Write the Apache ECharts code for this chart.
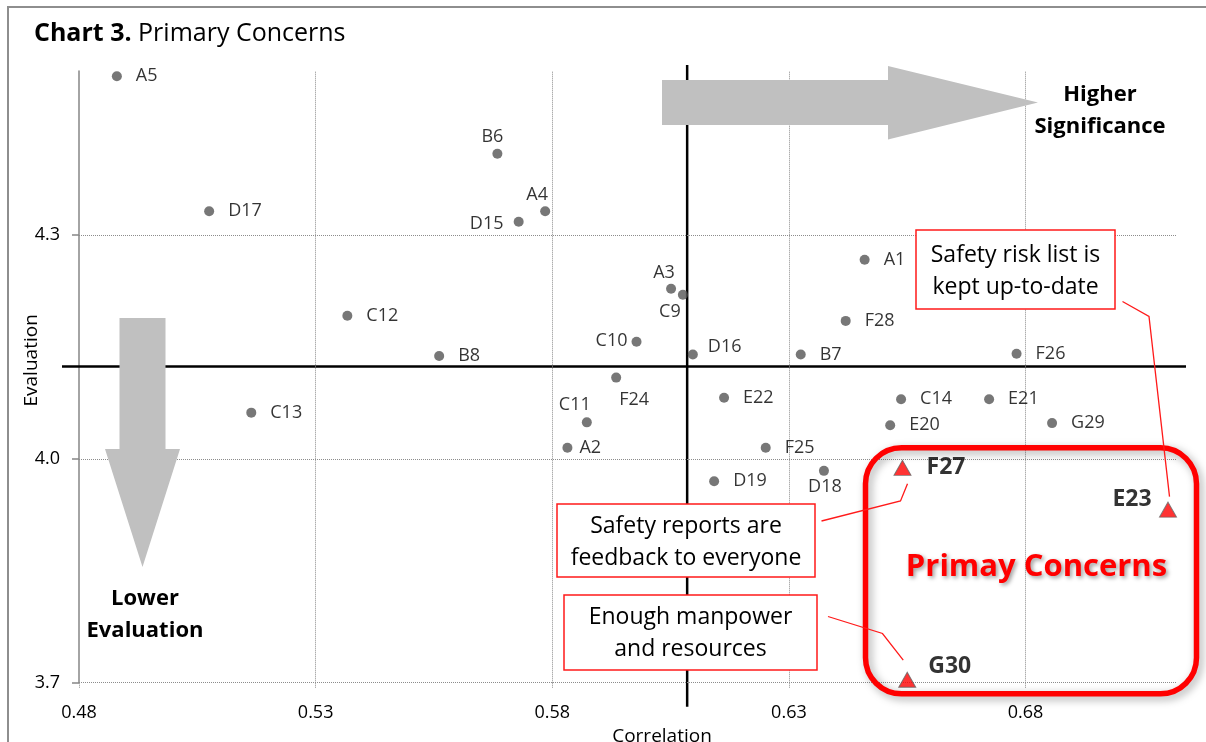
<!DOCTYPE html>
<html><head><meta charset="utf-8">
<script src="https://cdn.jsdelivr.net/npm/echarts@6/dist/echarts.min.js"></script>
<style>html,body{margin:0;padding:0;background:#fff}#c{width:1206px;height:742px}</style>
</head><body><div id="c"></div>
<script>
// ---------- data ----------
const pointNames  = ['A1','A2','A3','A4','A5','B6','B7','B8','C9','C10','C11','C12','C13','C14','D15','D16','D17','D18','D19','E20','E21','E22','F24','F25','F26','F28','G29'];
const correlation = [0.646,0.5832,0.6051,0.5785,0.4880,0.5684,0.6325,0.5561,0.6076,0.5978,0.5873,0.5367,0.5164,0.6537,0.5729,0.6097,0.5075,0.6374,0.6142,0.6514,0.6723,0.6163,0.5935,0.6251,0.6781,0.6420,0.6856];
const evaluation  = [4.267,4.015,4.228,4.332,4.513,4.409,4.140,4.138,4.220,4.157,4.049,4.192,4.062,4.080,4.318,4.140,4.332,3.984,3.970,4.045,4.080,4.082,4.109,4.015,4.141,4.185,4.048];
const primaryNames = ['F27','E23','G30'];
const primaryCorrelation = [0.654,0.7101,0.655];
const primaryEvaluation  = [3.988,3.932,3.704];
const meanCorrelation = 0.6085;
const meanEvaluation  = 4.124;
const xTicks = [0.48,0.53,0.58,0.63,0.68];
const yTicks = [3.7,4.0,4.3];
const X_MIN = 0.48, X_MAX = 0.712, Y_MIN = 3.7, Y_MAX = 4.52;

// ---------- styles ----------
const FONT = '"Open Sans","Noto Sans",sans-serif';
const labelPlacement = {
  A2:  {position:'right', distance:7},
  D16: {position:'right', distance:10, offset:[0,-8]},
  B6:  {position:'inside', offset:[-5,-17]},
  A4:  {position:'inside', offset:[-8,-16]},
  D15: {position:'inside', offset:[-32,2]},
  A3:  {position:'inside', offset:[-7,-16]},
  C9:  {position:'inside', offset:[-13,17]},
  C10: {position:'inside', offset:[-25,-1]},
  F24: {position:'inside', offset:[18,22]},
  C11: {position:'inside', offset:[-12,-17]},
  D18: {position:'inside', offset:[1,16]},
  F27: {position:'right', distance:15},
  E23: {position:'inside', offset:[-36,-10]},
  G30: {position:'right', distance:12, offset:[0,-13]}
};
function lab(name){ return Object.assign({position:'right', distance:14}, labelPlacement[name] || {}); }

const grayData = pointNames.map((n,i)=>({name:n, value:[correlation[i], evaluation[i]], label:lab(n)}));
const redData = primaryNames.map((n,i)=>({name:n, value:[primaryCorrelation[i], primaryEvaluation[i]], label:lab(n)}));

const chart = echarts.init(document.getElementById('c'), null, {renderer:'canvas'});
const gridLines = xTicks.slice(1).map(v=>({xAxis:v})).concat(yTicks.map(v=>({yAxis:v})));

chart.setOption({
  animation:false,
  backgroundColor:'#fff',
  title:{
    text:'{b|Chart 3.} Primary Concerns', left:34, top:21, padding:0,
    textStyle:{fontFamily:FONT, fontSize:25, fontWeight:'normal', color:'#000',
      rich:{b:{fontFamily:FONT, fontSize:25, fontWeight:'bold', color:'#000'}}}
  },
  grid:{left:79, right:29, top:71, bottom:59.3, containLabel:false, outerBoundsMode:'none'},
  xAxis:{
    type:'value', min:X_MIN, max:X_MAX, interval:0.05,
    name:'Correlation', nameLocation:'middle', nameGap:42,
    nameTextStyle:{fontFamily:FONT, fontSize:19, color:'#000', padding:[0,0,0,68]},
    axisLine:{show:false},
    axisTick:{show:true, customValues:xTicks, length:6, lineStyle:{color:'#8c8c8c', type:'dotted', width:1}},
    axisLabel:{customValues:xTicks, formatter:v=>Number(v).toFixed(2), fontFamily:FONT, fontSize:18, color:'#000', margin:21},
    splitLine:{show:false}
  },
  yAxis:{
    type:'value', min:Y_MIN, max:Y_MAX, interval:0.3,
    name:'Evaluation', nameLocation:'middle', nameGap:38, nameMoveOverlap:false,
    nameTextStyle:{fontFamily:FONT, fontSize:19, color:'#000', padding:[0,0,0,33]},
    axisLine:{show:true, lineStyle:{color:'#868686', width:1.5}},
    axisTick:{show:true, customValues:yTicks, length:7, lineStyle:{color:'#868686', width:1.5}},
    axisLabel:{customValues:yTicks, formatter:v=>Number(v).toFixed(1), fontFamily:FONT, fontSize:18, color:'#000', margin:19},
    splitLine:{show:false}
  },
  series:[
    {
      type:'scatter', data:[], z:1, silent:true,
      markLine:{silent:true, symbol:['none','none'], label:{show:false},
        lineStyle:{type:'dotted', color:'#8c8c8c', width:1}, emphasis:{disabled:true}, data:gridLines}
    },
    {
      type:'custom', coordinateSystem:'cartesian2d', clip:false, silent:true, z:3,
      data:[[meanCorrelation, meanEvaluation]],
      encode:{x:0, y:1},
      renderItem:function(params, api){
        const c = api.coord([api.value(0), api.value(1)]);
        const tl = api.coord([X_MIN, Y_MAX]);
        const br = api.coord([X_MAX, Y_MIN]);
        return {type:'group', children:[
          {type:'line', shape:{x1:tl[0]-17, y1:c[1], x2:br[0]+9, y2:c[1]}, style:{stroke:'#000', lineWidth:2.5}},
          {type:'line', shape:{x1:c[0], y1:tl[1]-6, x2:c[0], y2:br[1]+24}, style:{stroke:'#000', lineWidth:2.5}}
        ]};
      }
    },
    {
      type:'scatter', z:5, data:grayData, symbol:'circle', symbolSize:10, clip:false,
      itemStyle:{color:'#555'},
      label:{show:true, formatter:'{b}', fontFamily:FONT, fontSize:18, color:'#000'},
      emphasis:{disabled:true}
    },
    {
      type:'scatter', z:6, data:redData, symbol:'triangle', symbolSize:[17,15], clip:false,
      itemStyle:{color:'#ff0000', borderColor:'#666', borderWidth:1},
      label:{show:true, formatter:'{b}', fontFamily:FONT, fontSize:23, fontWeight:'bold', color:'#000'},
      emphasis:{disabled:true}
    }
  ]
});

// ---------- annotations ----------
function px(name){
  const i = primaryNames.indexOf(name);
  return chart.convertToPixel({gridIndex:0}, [primaryCorrelation[i], primaryEvaluation[i]]);
}
const pF27 = px('F27'), pE23 = px('E23'), pG30 = px('G30');
const RED = '#ff1a1a';
const calloutFont = {fontFamily:FONT, fontSize:23, fill:'#000', align:'center', verticalAlign:'middle', lineHeight:32};
const boldFont = {fontFamily:FONT, fontSize:22, fontWeight:'bold', fill:'#000', align:'center', verticalAlign:'middle', lineHeight:32.5};

chart.setOption({
  graphic:[
    {type:'rect', z:40, silent:true, shape:{x:8, y:7, width:1260, height:800}, style:{fill:'none', stroke:'#8e8e8e', lineWidth:2}},
    {type:'polygon', z:40, silent:true, shape:{points:[[662,80],[888,80],[888,66],[1038,102.5],[888,139.5],[888,125],[662,125]]}, style:{fill:'#c0c0c0'}},
    {type:'polygon', z:40, silent:true, shape:{points:[[119.5,318],[165.5,318],[165.5,449],[180,449],[142.5,567],[105,449],[119.5,449]]}, style:{fill:'#c0c0c0'}},
    {type:'text', z:41, silent:true, x:1100, y:110.5, style:Object.assign({text:'Higher\nSignificance'}, boldFont)},
    {type:'text', z:41, silent:true, x:145, y:614.5, style:Object.assign({text:'Lower\nEvaluation'}, boldFont)},
    {type:'rect', z:42, silent:true, shape:{x:865.5, y:447.8, width:331, height:246, r:36},
      style:{fill:'none', stroke:'#ff0000', lineWidth:5.5, shadowBlur:8, shadowColor:'rgba(0,0,0,0.35)', shadowOffsetX:3, shadowOffsetY:3}},
    {type:'text', z:43, silent:true, x:1036.5, y:567, style:{text:'Primay Concerns', fontFamily:FONT, fontSize:31, fontWeight:'bold', fill:'#ff0000', align:'center', verticalAlign:'middle',
      textShadowColor:'rgba(0,0,0,0.4)', textShadowBlur:4, textShadowOffsetX:2, textShadowOffsetY:2}},
    // callout boxes
    {type:'rect', z:44, silent:true, shape:{x:916, y:230, width:199, height:79}, style:{fill:'#fff', stroke:RED, lineWidth:1.5}},
    {type:'text', z:45, silent:true, x:1015.5, y:271, style:Object.assign({text:'Safety risk list is\nkept up-to-date'}, calloutFont)},
    {type:'rect', z:44, silent:true, shape:{x:557, y:504, width:258, height:73}, style:{fill:'#fff', stroke:RED, lineWidth:1.5}},
    {type:'text', z:45, silent:true, x:686, y:542.5, style:Object.assign({text:'Safety reports are\nfeedback to everyone'}, calloutFont)},
    {type:'rect', z:44, silent:true, shape:{x:564, y:595, width:253, height:75}, style:{fill:'#fff', stroke:RED, lineWidth:1.5}},
    {type:'text', z:45, silent:true, x:690.5, y:633.5, style:Object.assign({text:'Enough manpower\nand resources'}, calloutFont)},
    // leader lines
    {type:'polyline', z:46, silent:true, shape:{points:[[1122.5,301.5],[1149,316.5],[pE23[0]+1.5, pE23[1]-13]]}, style:{stroke:RED, lineWidth:1.3, fill:'none'}},
    {type:'polyline', z:46, silent:true, shape:{points:[[821.5,521],[900.5,501],[pF27[0]+5, pF27[1]+16]]}, style:{stroke:RED, lineWidth:1.3, fill:'none'}},
    {type:'polyline', z:46, silent:true, shape:{points:[[828,616.5],[882.5,633.5],[pG30[0]-4, pG30[1]-19.5]]}, style:{stroke:RED, lineWidth:1.3, fill:'none'}}
  ]
});
</script></body></html>
